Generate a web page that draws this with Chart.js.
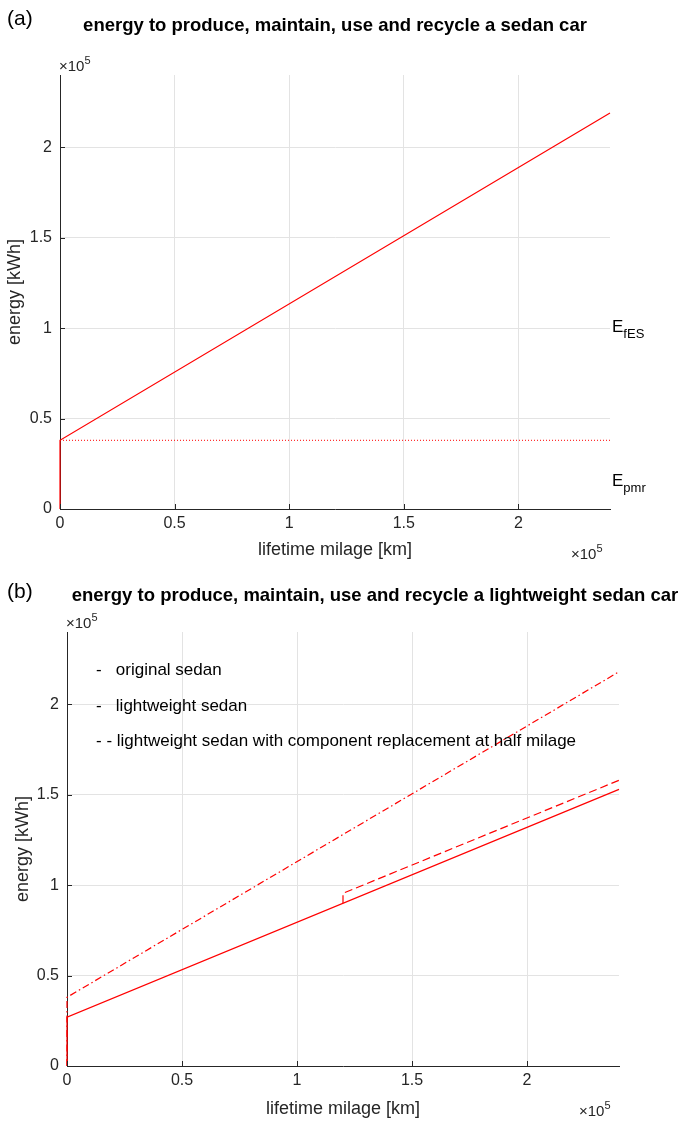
<!DOCTYPE html>
<html>
<head>
<meta charset="utf-8">
<script src="https://cdn.jsdelivr.net/npm/chart.js@4.4.1/dist/chart.umd.min.js"></script>
<style>
  html, body { margin: 0; padding: 0; background: #fff; }
  #fig { position: relative; width: 682px; height: 1121px; font-family: 'Liberation Sans', Arial, Helvetica, sans-serif; color: #262626; }
  .panel { position: absolute; left: 0; width: 682px; }
  .txt { position: absolute; white-space: nowrap; line-height: 1; }
  .tag { font-size: 21px; color: #000; }
  .title { font-size: 18.5px; font-weight: bold; color: #000; transform: translateX(-50%); }
  .lab { font-size: 18px; }
  .xlab { transform: translateX(-50%); }
  .ylab { transform: translate(-50%, -50%) rotate(-90deg); }
  .exp { font-size: 15px; }
  .exp sup { font-size: 11px; vertical-align: 7px; }
  .elab { font-size: 17px; color: #000; }
  .elab sub { font-size: 13px; vertical-align: -6px; }
  .leg { font-size: 17px; color: #000; }
</style>
</head>
<body>
<div id="fig">
  <div class="panel" style="top:0;height:570px"><canvas id="chartA" width="682" height="570"></canvas></div>
  <div class="panel" style="top:570px;height:551px"><canvas id="chartB" width="682" height="551"></canvas></div>
</div>
<script>
// mileage in km, energy in kWh
const sedanKm = [0, 0, 240000];
const sedanKWh = [0, 38000, 219000];
const pmrKm = [0, 240000];
const pmrKWh = [38000, 38000];

const origKm = [0, 0, 240000];
const origKWh = [0, 38000, 218000];
const lightKm = [0, 0, 240000];
const lightKWh = [0, 27000, 153000];
const replaceKm = [120000, 120000, 240000];
const replaceKWh = [90000, 95500, 158000];

const xTickValues = [0, 50000, 100000, 150000, 200000];
const yTickValues = [0, 50000, 100000, 150000, 200000];
const legendLines = [
    '-   original sedan',
    '-   lightweight sedan',
    '- - lightweight sedan with component replacement at half milage'
];

const AXIS = '#262626';
const GRID = '#e3e3e3';
const RED = '#ff0000';

function points(xs, ys) {
    return xs.map((x, i) => ({ x: x, y: ys[i] }));
}

function fmtTick(v) {
    return String(+(v / 1e5).toFixed(2));
}

// MATLAB style ticks pointing into the axes
const inwardTicks = {
    id: 'inwardTicks',
    afterDraw(chart) {
        const { ctx, chartArea: a, scales: { x, y } } = chart;
        ctx.save();
        ctx.strokeStyle = AXIS;
        ctx.lineWidth = 1;
        ctx.beginPath();
        x.ticks.forEach(t => {
            const px = Math.round(x.getPixelForValue(t.value)) + 0.5;
            ctx.moveTo(px, a.bottom);
            ctx.lineTo(px, a.bottom - 5);
        });
        y.ticks.forEach(t => {
            const py = Math.round(y.getPixelForValue(t.value)) + 0.5;
            ctx.moveTo(a.left, py);
            ctx.lineTo(a.left + 5, py);
        });
        ctx.stroke();
        ctx.restore();
    }
};

function line(data, dash, color) {
    return {
        data: data,
        showLine: true,
        borderColor: color || RED,
        borderWidth: 1.2,
        borderDash: dash || [],
        pointRadius: 0,
        fill: false,
        clip: false
    };
}

function makeOptions(padding) {
    const tickFont = { family: "'Liberation Sans', Arial, sans-serif", size: 16 };
    return {
        responsive: false,
        animation: false,
        layout: { padding: padding },
        plugins: { legend: { display: false }, tooltip: { enabled: false } },
        scales: {
            x: {
                type: 'linear',
                min: 0,
                max: 240000,
                afterBuildTicks: s => { s.ticks = xTickValues.map(v => ({ value: v })); },
                afterFit: s => { s.height = 40; },
                grid: { color: GRID, drawTicks: false },
                border: { display: true, color: AXIS, width: 1 },
                ticks: { color: AXIS, font: tickFont, padding: 5, maxRotation: 0, callback: fmtTick }
            },
            y: {
                type: 'linear',
                min: 0,
                max: 240000,
                afterBuildTicks: s => { s.ticks = yTickValues.map(v => ({ value: v })); },
                afterFit: s => { s.width = 40; },
                grid: { color: GRID, drawTicks: false },
                border: { display: true, color: AXIS, width: 1 },
                ticks: { color: AXIS, font: tickFont, padding: 8, callback: fmtTick }
            }
        }
    };
}

new Chart(document.getElementById('chartA'), {
    type: 'scatter',
    data: {
        datasets: [
            line(points(sedanKm, sedanKWh)),
            line(points(pmrKm, pmrKWh), [1, 2], 'rgba(255,0,0,0.8)')
        ]
    },
    options: makeOptions({ left: 20, right: 72, top: 75, bottom: 21 }),
    plugins: [inwardTicks]
});

new Chart(document.getElementById('chartB'), {
    type: 'scatter',
    data: {
        datasets: [
            line(points(origKm, origKWh), [7, 3, 1.5, 3]),
            line(points(lightKm, lightKWh)),
            line(points(replaceKm, replaceKWh), [8, 4])
        ]
    },
    options: makeOptions({ left: 27, right: 63, top: 62, bottom: 15 }),
    plugins: [inwardTicks]
});

// text around the axes
const fig = document.getElementById('fig');
function addText(html, cls, left, top) {
    const d = document.createElement('div');
    d.className = 'txt ' + cls;
    d.innerHTML = html;
    d.style.left = left + 'px';
    d.style.top = top + 'px';
    fig.appendChild(d);
}

addText('(a)', 'tag', 7, 7);
addText('energy to produce, maintain, use and recycle a sedan car', 'title', 335, 16);
addText('&times;10<sup>5</sup>', 'exp', 59, 55);
addText('energy [kWh]', 'lab ylab', 14, 292);
addText('lifetime milage [km]', 'lab xlab', 335, 540);
addText('&times;10<sup>5</sup>', 'exp', 571, 543);
addText('E<sub>fES</sub>', 'elab', 612, 318);
addText('E<sub>pmr</sub>', 'elab', 612, 472);

addText('(b)', 'tag', 7, 580);
addText('energy to produce, maintain, use and recycle a lightweight sedan car', 'title', 375, 586);
addText('&times;10<sup>5</sup>', 'exp', 66, 612);
addText('energy [kWh]', 'lab ylab', 22, 849);
addText('lifetime milage [km]', 'lab xlab', 343, 1099);
addText('&times;10<sup>5</sup>', 'exp', 579, 1100);
legendLines.forEach((t, i) => {
    addText(t.replace(/ /g, '&nbsp;'), 'leg', 96, 661 + i * 35.5);
});
</script>
</body>
</html>
